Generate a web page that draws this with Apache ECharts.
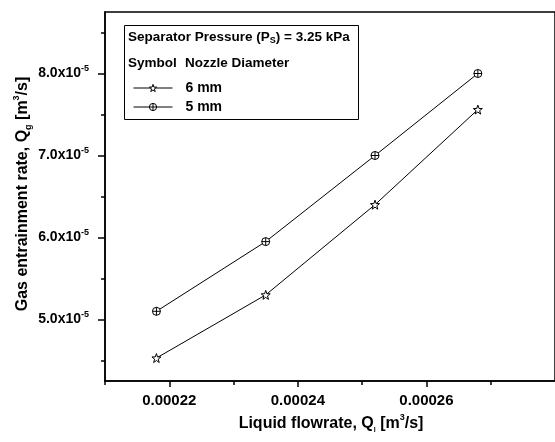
<!DOCTYPE html>
<html>
<head>
<meta charset="utf-8">
<script src="https://cdn.jsdelivr.net/npm/echarts@6/dist/echarts.min.js"></script>
<style>html,body{margin:0;padding:0;background:#fff}#c{width:555px;height:442px}</style>
</head>
<body>
<div id="c"></div>
<script>
// Data
var liquidFlow = [0.000218, 0.000235, 0.000252, 0.000268];
var gas6mm = [4.53e-5, 5.30e-5, 6.40e-5, 7.56e-5];
var gas5mm = [5.10e-5, 5.95e-5, 7.00e-5, 8.00e-5];
var seriesNames = ['6 mm', '5 mm'];
var xLabelValues = [0.00022, 0.00024, 0.00026];
var xMinorValues = [0.00021, 0.00023, 0.00025, 0.00027];
var yLabelValues = [5.0e-5, 6.0e-5, 7.0e-5, 8.0e-5];
var yMinorValues = [4.5e-5, 5.5e-5, 6.5e-5, 7.5e-5, 8.5e-5];

var FONT = '"Liberation Sans", Arial, sans-serif';
var STAR = 'path://M0,-100 L23.5,-32.4 L95.1,-30.9 L38,12.4 L58.8,80.9 L0,40 L-58.8,80.9 L-38,12.4 L-95.1,-30.9 L-23.5,-32.4 Z';
var OPLUS = 'path://M-50,0 A50,50 0 1 0 50,0 A50,50 0 1 0 -50,0 Z M0,-50 L0,50 M-50,0 L50,0';

function pairs(xs, ys) { return xs.map(function (x, i) { return [x, ys[i]]; }); }

var chart = echarts.init(document.getElementById('c'), null, { renderer: 'canvas' });
var xRange = { min: 0.00021, max: 0.00028 };
var yRange = { min: 4.25e-5, max: 8.75e-5 };

var option = {
  animation: false,
  backgroundColor: '#fff',
  textStyle: { fontFamily: FONT },
  grid: { left: 105, top: 12, width: 492, height: 369, show: true, borderColor: '#000', borderWidth: 1.5, backgroundColor: 'transparent' },
  xAxis: [{
    type: 'value', min: xRange.min, max: xRange.max, position: 'bottom',
    axisLine: { show: true, lineStyle: { color: '#000', width: 1.5 } },
    axisTick: { show: true, inside: false, length: 6, customValues: xLabelValues, lineStyle: { color: '#000', width: 1.5 } },
    axisLabel: { show: true, customValues: xLabelValues, margin: 12, color: '#000', fontWeight: 'bold', fontSize: 15, fontFamily: FONT,
      formatter: function (v) { return v.toFixed(5); } },
    splitLine: { show: false }
  }, {
    type: 'value', min: xRange.min, max: xRange.max, position: 'bottom',
    axisLine: { show: false },
    axisTick: { show: true, inside: false, length: 4, customValues: xMinorValues, lineStyle: { color: '#000', width: 1.5 } },
    axisLabel: { show: false },
    splitLine: { show: false }
  }],
  yAxis: [{
    type: 'value', min: yRange.min, max: yRange.max, position: 'left',
    axisLine: { show: true, lineStyle: { color: '#000', width: 1.5 } },
    axisTick: { show: true, inside: false, length: 7, customValues: yLabelValues, lineStyle: { color: '#000', width: 1.5 } },
    axisLabel: { show: true, customValues: yLabelValues, margin: 16, color: '#000',
      formatter: function (v) { return '{m|' + (v * 1e5).toFixed(1) + 'x10}{s|-5}'; },
      rich: {
        m: { fontSize: 14, fontWeight: 'bold', fontFamily: FONT, color: '#000' },
        s: { fontSize: 9, fontWeight: 'bold', fontFamily: FONT, color: '#000', padding: [0, 0, 10, 0] }
      } },
    splitLine: { show: false }
  }, {
    type: 'value', min: yRange.min, max: yRange.max, position: 'left',
    axisLine: { show: false },
    axisTick: { show: true, inside: false, length: 4, customValues: yMinorValues, lineStyle: { color: '#000', width: 1.5 } },
    axisLabel: { show: false },
    splitLine: { show: false }
  }],
  legend: {
    data: seriesNames,
    orient: 'vertical', left: 128, top: 76, itemWidth: 39, itemHeight: 9, itemGap: 5,
    itemStyle: { color: '#fff', borderColor: '#000', borderWidth: 1 },
    lineStyle: { color: '#000', width: 1 },
    textStyle: { color: '#000', fontWeight: 'bold', fontSize: 14, fontFamily: FONT, padding: [0, 0, 0, 8] }
  },
  graphic: [
    { type: 'rect', left: 122, top: 23, shape: { width: 234, height: 94 }, style: { fill: 'none', stroke: '#000', lineWidth: 1 }, z: 50 },
    { type: 'text', left: 128, top: 30, z: 51, style: {
      text: '{t|Separator Pressure (P}{sub|S}{t|) = 3.25 kPa}',
      rich: {
        t: { fontSize: 13.5, fontWeight: 'bold', fontFamily: FONT, fill: '#000' },
        sub: { fontSize: 9, fontWeight: 'bold', fontFamily: FONT, fill: '#000', padding: [8, 0, 0, 0] }
      } } },
    { type: 'text', left: 128, top: 56, z: 51, style: { text: 'Symbol', font: 'bold 13.5px ' + FONT, fill: '#000' } },
    { type: 'text', left: 185, top: 56, z: 51, style: { text: 'Nozzle Diameter', font: 'bold 13.5px ' + FONT, fill: '#000' } },
    { type: 'text', x: 331, y: 424, z: 51, style: {
      text: '{t|Liquid flowrate, Q}{sub|l}{t| [m}{sup|3}{t|/s]}',
      align: 'center', verticalAlign: 'middle',
      rich: {
        t: { fontSize: 16, fontWeight: 'bold', fontFamily: FONT, fill: '#000' },
        sub: { fontSize: 7, fontWeight: 'bold', fontFamily: FONT, fill: '#000', padding: [12, 0, 0, 0] },
        sup: { fontSize: 9, fontWeight: 'bold', fontFamily: FONT, fill: '#000', padding: [0, 0, 12, 0] }
      } } },
    { type: 'text', x: 23, y: 194, rotation: Math.PI / 2, z: 51, style: {
      text: '{t|Gas entrainment rate, Q}{sub|g}{t| [m}{sup|3}{t|/s]}',
      align: 'center', verticalAlign: 'middle',
      rich: {
        t: { fontSize: 16, fontWeight: 'bold', fontFamily: FONT, fill: '#000' },
        sub: { fontSize: 9, fontWeight: 'bold', fontFamily: FONT, fill: '#000', padding: [12, 0, 0, 0] },
        sup: { fontSize: 9, fontWeight: 'bold', fontFamily: FONT, fill: '#000', padding: [0, 0, 12, 0] }
      } } }
  ],
  series: [{
    name: seriesNames[0], type: 'line', data: pairs(liquidFlow, gas6mm),
    symbol: STAR, symbolSize: 9,
    lineStyle: { color: '#000', width: 1 },
    itemStyle: { color: '#fff', borderColor: '#000', borderWidth: 1 }
  }, {
    name: seriesNames[1], type: 'line', data: pairs(liquidFlow, gas5mm),
    symbol: OPLUS, symbolSize: 8,
    lineStyle: { color: '#000', width: 1 },
    itemStyle: { color: '#fff', borderColor: '#000', borderWidth: 1 }
  }]
};
chart.setOption(option);
</script>
</body>
</html>
